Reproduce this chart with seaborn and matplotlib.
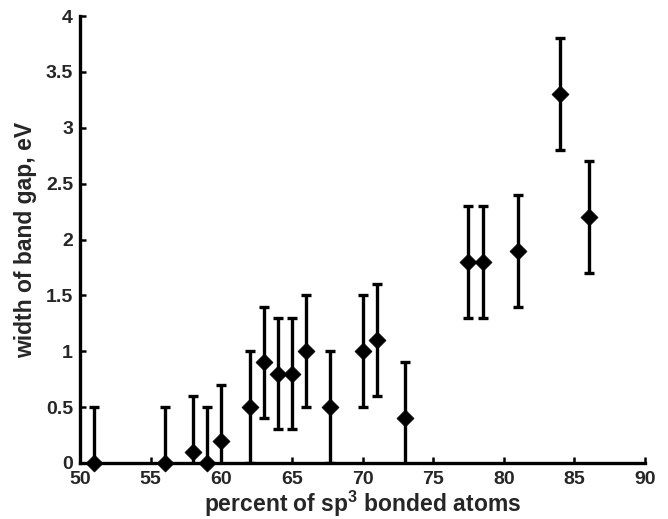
import numpy as np
import pandas as pd
import matplotlib
import matplotlib.pyplot as plt
import seaborn as sns

matplotlib.use('Agg')

# --- data ---
sp3_percent = [51, 56, 58, 59, 60, 62, 63, 64, 65, 66, 67.7, 70, 71, 73,
               77.5, 78.5, 81, 84, 86]
band_gap = [0.0, 0.0, 0.1, 0.0, 0.2, 0.5, 0.9, 0.8, 0.8, 1.0, 0.5, 1.0, 1.1,
            0.4, 1.8, 1.8, 1.9, 3.3, 2.2]
gap_error = [0.5] * len(sp3_percent)
x_ticks = [50, 55, 60, 65, 70, 75, 80, 85, 90]
y_ticks = [0, 0.5, 1, 1.5, 2, 2.5, 3, 3.5, 4]
y_tick_labels = ['0', '0.5', '1', '1.5', '2', '2.5', '3', '3.5', '4']

df = pd.DataFrame({'sp3': sp3_percent, 'gap': band_gap, 'err': gap_error})

sns.set_style('ticks')
plt.rcParams['font.family'] = ['Liberation Sans', 'DejaVu Sans']
plt.rcParams['font.weight'] = 'bold'
plt.rcParams['mathtext.fontset'] = 'custom'
plt.rcParams['mathtext.bf'] = 'Liberation Sans:bold'
plt.rcParams['mathtext.rm'] = 'Liberation Sans:bold'

fig = plt.figure(figsize=(6.68, 5.19), dpi=100)
ax = fig.add_axes([0.1198, 0.1079, 0.8458, 0.8612])

ax.errorbar(df['sp3'], df['gap'], yerr=df['err'], fmt='none',
            ecolor='black', elinewidth=2.4, capsize=3.6, capthick=2.4,
            zorder=2)
sns.scatterplot(data=df, x='sp3', y='gap', marker='D', s=75, color='black',
                edgecolor='black', linewidth=0.5, ax=ax, zorder=3,
                clip_on=False)

ax.set_xlim(50, 90)
ax.set_ylim(0, 4)
ax.set_xticks(x_ticks)
ax.set_yticks(y_ticks)
ax.set_yticklabels(y_tick_labels)
ax.tick_params(direction='in', length=4, width=1.8, labelsize=14,
               color='black')
ax.tick_params(axis='x', pad=6)
ax.tick_params(axis='y', pad=5)
for lab in ax.get_xticklabels() + ax.get_yticklabels():
    lab.set_fontweight('bold')

sns.despine(ax=ax)
for side in ['left', 'bottom']:
    ax.spines[side].set_linewidth(2.4)
    ax.spines[side].set_color('black')

ax.set_xlabel(r'percent of sp$^{\mathbf{3}}$ bonded atoms', fontsize=16.5,
              fontweight='bold', labelpad=0)
ax.set_ylabel('width of band gap, eV', fontsize=16.5, fontweight='bold',
              labelpad=6)

fig.savefig('out.png', dpi=100)
plt.close(fig)
